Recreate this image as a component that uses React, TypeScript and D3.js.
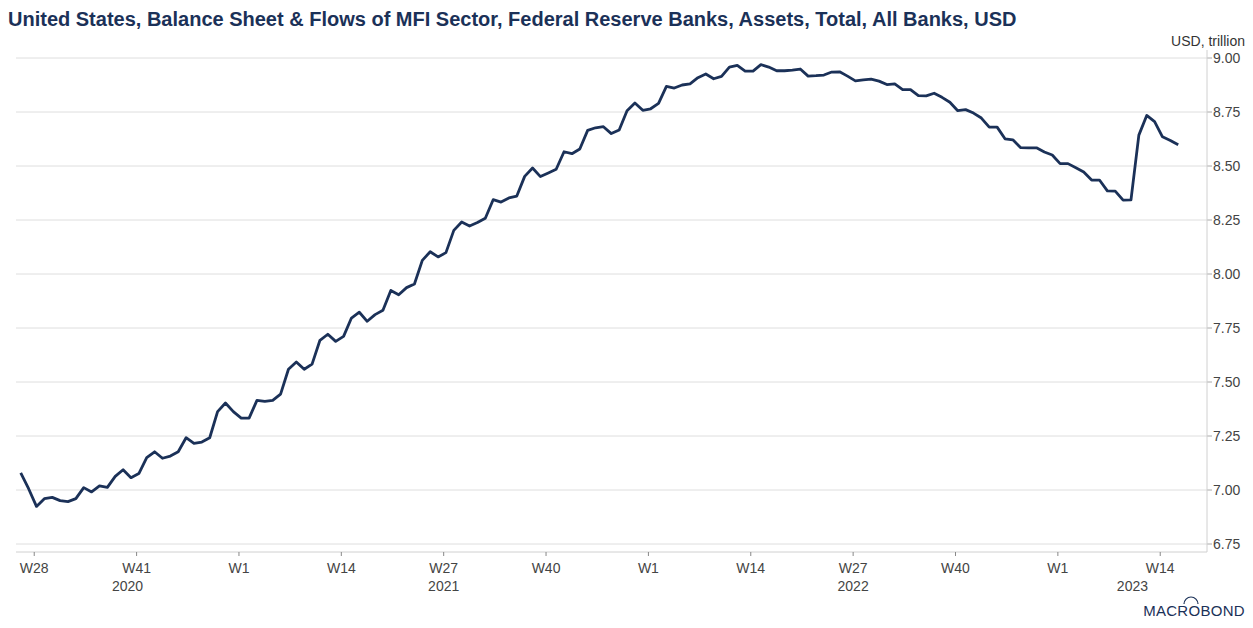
import React from "react";
import * as d3 from "d3";

const TITLE =
  "United States, Balance Sheet & Flows of MFI Sector, Federal Reserve Banks, Assets, Total, All Banks, USD";
const UNIT = "USD, trillion";

// weekly observations (Wednesdays), first one 2020-06-24
const firstObs = "2020-06-24";
const values: number[] = [
  7.079, 7.006, 6.924, 6.96, 6.966, 6.951, 6.946, 6.96, 7.011, 6.991,
  7.019, 7.012, 7.063, 7.094, 7.057, 7.076, 7.15, 7.177, 7.147, 7.157,
  7.177, 7.242, 7.216, 7.222, 7.242, 7.363, 7.403, 7.363, 7.333, 7.333,
  7.415, 7.41, 7.415, 7.444, 7.559, 7.593, 7.559, 7.583, 7.693, 7.721,
  7.688, 7.711, 7.796, 7.823, 7.781, 7.812, 7.832, 7.924, 7.904, 7.937,
  7.954, 8.063, 8.103, 8.079, 8.099, 8.202, 8.241, 8.222, 8.238, 8.258,
  8.344, 8.333, 8.352, 8.361, 8.452, 8.491, 8.451, 8.468, 8.485, 8.566,
  8.557, 8.579, 8.665, 8.677, 8.682, 8.65, 8.667, 8.756, 8.792, 8.758,
  8.765, 8.79, 8.869, 8.861, 8.875, 8.88, 8.909, 8.926, 8.904, 8.915,
  8.958, 8.966, 8.939, 8.939, 8.969, 8.958, 8.941, 8.941, 8.944, 8.949,
  8.916, 8.918, 8.921, 8.935, 8.936, 8.916, 8.894, 8.899, 8.902, 8.893,
  8.877, 8.88, 8.854, 8.854, 8.826, 8.825, 8.837, 8.818, 8.795, 8.756,
  8.761, 8.745, 8.722, 8.68, 8.68, 8.626, 8.621, 8.585, 8.584, 8.584,
  8.565, 8.551, 8.511, 8.511, 8.492, 8.472, 8.435, 8.435, 8.385, 8.384,
  8.342, 8.343, 8.643, 8.734, 8.705, 8.635, 8.618, 8.598,
];

const weekTickLabels = ["W28", "W41", "W1", "W14", "W27", "W40", "W1", "W14", "W27", "W40", "W1", "W14"];
const weekTickDates = [
  "2020-07-06", "2020-10-05", "2021-01-04", "2021-04-05", "2021-07-05", "2021-10-04",
  "2022-01-03", "2022-04-04", "2022-07-04", "2022-10-03", "2023-01-02", "2023-04-03",
];
const yearLabels = ["2020", "2021", "2022", "2023"];
const yearStarts = ["2019-12-30", "2021-01-04", "2022-01-03", "2023-01-02"];
const yearEnds = ["2021-01-04", "2022-01-03", "2023-01-02", "2024-01-01"];
const yTicks = [6.75, 7.0, 7.25, 7.5, 7.75, 8.0, 8.25, 8.5, 8.75, 9.0];

const parse = (s: string) => new Date(s + "T00:00:00Z");

const W = 1253;
const H = 628;
const left = 16;
const right = 1207;
const top = 58;
const bottom = 544;
const frameBottom = 552;

const FONT = "'Liberation Sans', Arial, Helvetica, sans-serif";
const NAVY = "#1b3158";
const TEXT = "#444";

export default function App() {
  const start = parse(firstObs);
  const dates = values.map((_, i) => d3.utcDay.offset(start, 7 * i));

  const x = d3
    .scaleUtc()
    .domain([new Date(Date.UTC(2020, 5, 19, 19)), new Date(Date.UTC(2023, 4, 14, 14))])
    .range([left, right]);
  const y = d3.scaleLinear().domain([6.75, 9.0]).range([bottom, top]);

  const line = d3
    .line<number>()
    .x((_, i) => x(dates[i]))
    .y((v) => y(v));

  return (
    <svg
      width={W}
      height={H}
      style={{ position: "absolute", left: 0, top: 0, background: "#fff" }}
      fontFamily={FONT}
    >
      <rect x={0} y={0} width={W} height={H} fill="#fff" />
      <text x={8} y={26} fontSize={20} fontWeight="bold" fill={NAVY}>
        {TITLE}
      </text>
      <text x={1245} y={46} fontSize={14} fill="#333" textAnchor="end">
        {UNIT}
      </text>

      {/* gridlines */}
      {yTicks.map((t) => (
        <g key={t}>
          <line x1={left} x2={right} y1={y(t)} y2={y(t)} stroke="#dedede" strokeWidth={1} />
          <line x1={right} x2={right + 5} y1={y(t)} y2={y(t)} stroke="#aaa" strokeWidth={1} />
          <text x={1213} y={y(t) + 5} fontSize={14} fill={TEXT}>
            {t.toFixed(2)}
          </text>
        </g>
      ))}

      {/* frame */}
      <line x1={right} x2={right} y1={50} y2={frameBottom} stroke="#d0d0d0" strokeWidth={1} />
      <line x1={left} x2={right} y1={frameBottom} y2={frameBottom} stroke="#d0d0d0" strokeWidth={1} />

      {/* x ticks */}
      {weekTickDates.map((d, i) => {
        const xx = x(parse(d));
        return (
          <g key={d}>
            <line x1={xx} x2={xx} y1={frameBottom} y2={frameBottom + 4} stroke="#888" strokeWidth={1} />
            <text x={xx} y={573} fontSize={14} fill={TEXT} textAnchor="middle">
              {weekTickLabels[i]}
            </text>
          </g>
        );
      })}
      {yearLabels.map((lab, i) => {
        const a = Math.max(left, x(parse(yearStarts[i])));
        const b = Math.min(right, x(parse(yearEnds[i])));
        return (
          <text key={lab} x={(a + b) / 2} y={591} fontSize={14} fill={TEXT} textAnchor="middle">
            {lab}
          </text>
        );
      })}

      {/* series */}
      <path d={line(values) || ""} fill="none" stroke={NAVY} strokeWidth={2.8} strokeLinejoin="round" />

      {/* logo */}
      <text x={1245} y={616} fontSize={15} fill={NAVY} textAnchor="end" letterSpacing={0.3}>
        MACROBOND
      </text>
      <path d="M1184,604 A7,7 0 0 1 1198,604" fill="none" stroke={NAVY} strokeWidth={1.2} />
    </svg>
  );
}
